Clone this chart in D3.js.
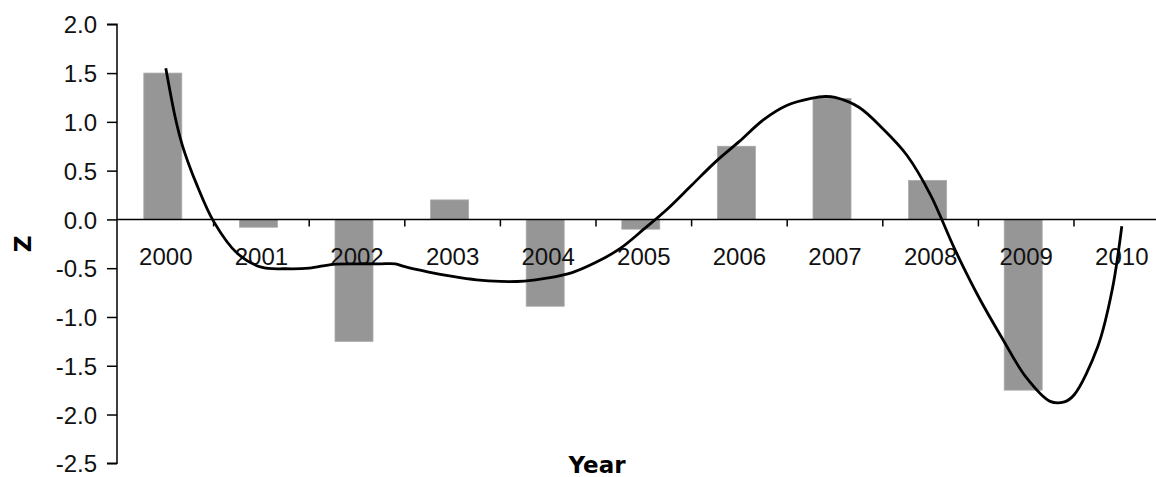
<!DOCTYPE html>
<html>
<head>
<meta charset="utf-8">
<script src="https://cdn.jsdelivr.net/npm/d3@7/dist/d3.min.js"></script>
<style>
  html, body { margin: 0; padding: 0; background: #fff; }
  svg { display: block; }
</style>
</head>
<body>
<svg id="chart" width="1156" height="477"></svg>
<script>
// Annual Z scores
const years = ["2000","2001","2002","2003","2004","2005","2006","2007","2008","2009","2010"];
const zValues = [1.5, -0.08, -1.25, 0.2, -0.89, -0.1, 0.75, 1.24, 0.4, -1.75, null];

// Smoothed trend (position in years, Z)
const trendYear = [2000, 2000.1, 2000.17, 2000.25, 2000.31, 2000.5, 2000.75, 2001, 2001.25, 2001.5, 2001.75,
  2002, 2002.25, 2002.4, 2002.5, 2002.75, 2003, 2003.25, 2003.5, 2003.75, 2004, 2004.25, 2004.5, 2004.75,
  2005, 2005.25, 2005.5, 2005.75, 2006, 2006.25, 2006.5, 2006.75, 2006.9, 2007, 2007.25, 2007.5, 2007.75,
  2008, 2008.25, 2008.5, 2008.75, 2009, 2009.25, 2009.4, 2009.5, 2009.75, 2009.9, 2010];
const trendZ = [1.55, 1.04, 0.77, 0.54, 0.39, -0.02, -0.35, -0.49, -0.506, -0.5, -0.46,
  -0.455, -0.455, -0.455, -0.485, -0.54, -0.585, -0.62, -0.636, -0.632, -0.6, -0.545, -0.44, -0.3,
  -0.1, 0.11, 0.35, 0.59, 0.8, 1.02, 1.17, 1.24, 1.26, 1.25, 1.15, 0.93, 0.66,
  0.25, -0.3, -0.79, -1.22, -1.62, -1.865, -1.87, -1.8, -1.3, -0.72, -0.07];

const yTicks = [2.0, 1.5, 1.0, 0.5, 0.0, -0.5, -1.0, -1.5, -2.0, -2.5];

const svg = d3.select("#chart");
const axisX = 117;

const x = d3.scaleBand().domain(years).range([118, 118 + 95.6 * years.length]).padding(0);
const y = d3.scaleLinear().domain([-2.5, 2.0]).range([463.3, 24.3]);
const bw = x.bandwidth();
const xYear = d3.scaleLinear()
  .domain([2000, 2010])
  .range([x("2000") + bw / 2, x("2010") + bw / 2]);

const labelFont = "'Liberation Sans', Arial, sans-serif";
const titleFont = "'DejaVu Sans', Verdana, sans-serif";

// Bars
const barW = 38;
const barShift = -3;
svg.append("g")
  .selectAll("rect")
  .data(years.map((yr, i) => ({ yr, v: zValues[i] })).filter(d => d.v !== null))
  .join("rect")
  .attr("x", d => x(d.yr) + (bw - barW) / 2 + barShift)
  .attr("width", barW)
  .attr("y", d => y(Math.max(0, d.v)))
  .attr("height", d => Math.abs(y(d.v) - y(0)))
  .attr("fill", "#969696")
  .attr("stroke", "#aaaaaa")
  .attr("stroke-width", 0.8);

// Y axis
const yAxis = d3.axisLeft(y).tickValues(yTicks).tickSize(10).tickPadding(10)
  .tickFormat(d3.format(".1f"));
const gy = svg.append("g").attr("transform", `translate(${axisX},0)`).call(yAxis);
gy.select(".domain").attr("stroke", "#000").attr("stroke-width", 1.5)
  .attr("d", `M-10,${y(2.0)}H0V${y(-2.5)}H-10`);
gy.selectAll(".tick line").attr("stroke", "#000").attr("stroke-width", 1.5);
gy.selectAll(".tick text")
  .attr("font-family", labelFont).attr("font-size", 24).attr("fill", "#111")
  .attr("dy", "0.36em")
  .text(d => d < 0 ? "-" + d3.format(".1f")(-d) : d3.format(".1f")(d));

// X axis along zero
const gx = svg.append("g").attr("transform", `translate(0,${y(0)})`);
gx.append("line").attr("x1", axisX).attr("x2", 1156).attr("stroke", "#000").attr("stroke-width", 1.5);
gx.selectAll("line.tk")
  .data(years.slice(1))
  .join("line").attr("class", "tk")
  .attr("x1", d => x(d)).attr("x2", d => x(d))
  .attr("y1", 0).attr("y2", 7)
  .attr("stroke", "#000").attr("stroke-width", 1.5);
gx.selectAll("text")
  .data(years)
  .join("text")
  .attr("x", d => x(d) + bw / 2)
  .attr("y", 45.5)
  .attr("text-anchor", "middle")
  .attr("font-family", labelFont).attr("font-size", 24).attr("fill", "#111")
  .text(d => d);

// Trend curve
const line = d3.line()
  .x((d, i) => xYear(trendYear[i]))
  .y(d => y(d))
  .curve(d3.curveCatmullRom.alpha(0.5));
svg.append("path")
  .attr("d", line(trendZ))
  .attr("fill", "none")
  .attr("stroke", "#000")
  .attr("stroke-width", 2.8)
  .attr("stroke-linejoin", "round");

// Axis titles
svg.append("text")
  .attr("transform", `translate(30.5,${(y(2.0) + y(-2.5)) / 2}) rotate(-90)`)
  .attr("text-anchor", "middle")
  .attr("font-family", titleFont).attr("font-weight", "bold").attr("font-size", 23)
  .text("Z");
svg.append("text")
  .attr("x", 597).attr("y", 473)
  .attr("text-anchor", "middle")
  .attr("font-family", titleFont).attr("font-weight", "bold").attr("font-size", 23)
  .text("Year");
</script>
</body>
</html>
